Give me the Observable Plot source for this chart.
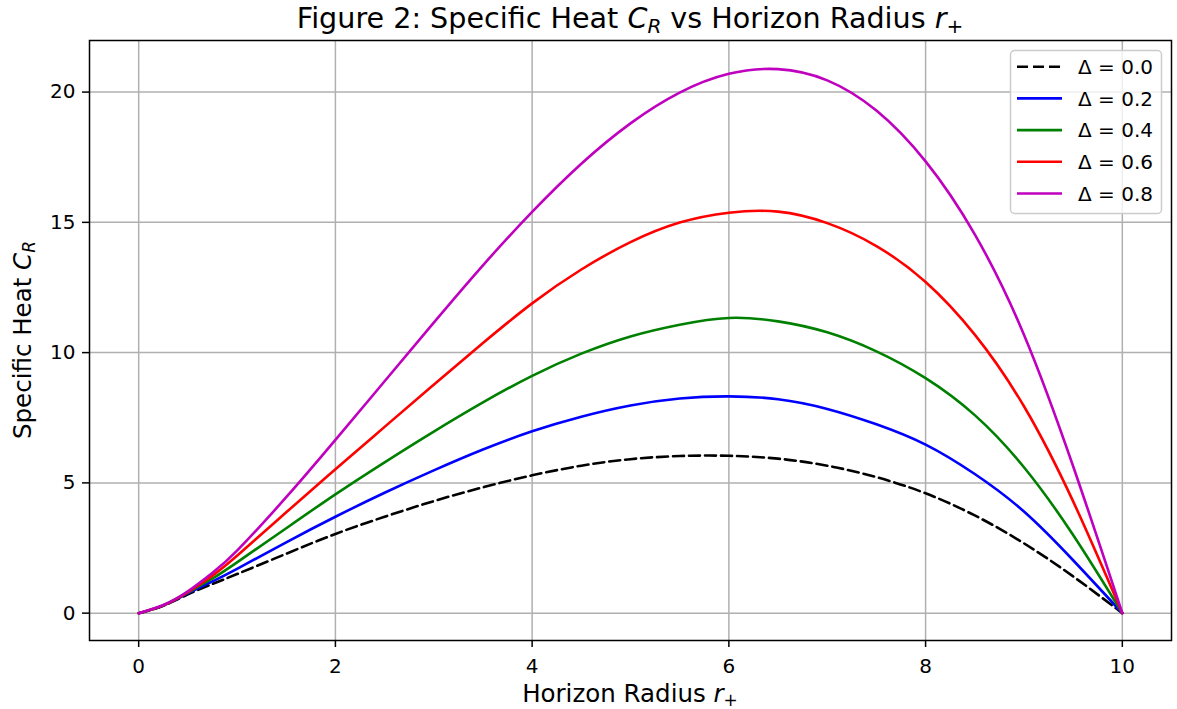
<!DOCTYPE html>
<html>
<head>
<meta charset="utf-8">
<script src="https://cdn.jsdelivr.net/npm/d3@7"></script>
<script src="https://cdn.jsdelivr.net/npm/@observablehq/plot@0.6"></script>
<style>
  body { margin: 0; background: #fff; }
  #chart { width: 1177px; height: 709px; font-family: "DejaVu Sans", sans-serif; }
</style>
</head>
<body>
<div id="chart"></div>
<script>
// Horizon radius samples
const rPlus = [0, 0.25, 0.5, 0.75, 1, 1.5, 2, 2.5, 3, 3.5, 4, 4.5, 5, 5.5, 6, 6.5, 7, 7.5, 8, 8.5, 9, 9.5, 10];
// Specific heat C_R for each Δ
const cR_d00 = [0, 0.28, 0.72, 1.12, 1.50, 2.28, 3.04, 3.70, 4.30, 4.83, 5.29, 5.66, 5.91, 6.03, 6.04, 5.93, 5.66, 5.22, 4.60, 3.75, 2.68, 1.41, 0];
const cR_d02 = [0, 0.29, 0.76, 1.22, 1.70, 2.72, 3.70, 4.62, 5.48, 6.28, 6.98, 7.54, 7.97, 8.24, 8.32, 8.21, 7.84, 7.25, 6.47, 5.34, 3.90, 2.03, 0];
const cR_d04 = [0, 0.30, 0.79, 1.33, 1.95, 3.26, 4.56, 5.79, 6.97, 8.09, 9.11, 9.96, 10.62, 11.07, 11.33, 11.20, 10.78, 10.05, 9.02, 7.60, 5.60, 3.00, 0];
const cR_d06 = [0, 0.30, 0.81, 1.44, 2.20, 3.87, 5.52, 7.15, 8.77, 10.37, 11.89, 13.19, 14.24, 14.99, 15.37, 15.41, 14.97, 14.09, 12.71, 10.69, 7.94, 4.29, 0];
const cR_d08 = [0, 0.31, 0.84, 1.55, 2.40, 4.45, 6.65, 8.90, 11.15, 13.35, 15.40, 17.25, 18.80, 19.98, 20.70, 20.88, 20.45, 19.29, 17.34, 14.54, 10.69, 5.64, 0];

const deltaLabels = ["0.0", "0.2", "0.4", "0.6", "0.8"];
const seriesColors = ["#000000", "#0000ff", "#008000", "#ff0000", "#bf00bf"];
const seriesDashes = ["11,5", null, null, null, null];
const xTicks = [0, 2, 4, 6, 8, 10];
const yTicks = [0, 5, 10, 15, 20];

const seriesValues = [cR_d00, cR_d02, cR_d04, cR_d06, cR_d08];
const rows = [];
seriesValues.forEach((vals, k) => vals.forEach((v, i) => rows.push({ r: rPlus[i], c: v, delta: deltaLabels[k] })));

const W = 1177, H = 709, mL = 89, mR = 6, mT = 40, mB = 69;

const plot = Plot.plot({
  width: W, height: H,
  marginLeft: mL, marginRight: mR, marginTop: mT, marginBottom: mB,
  style: { fontFamily: "DejaVu Sans", fontSize: "20px", color: "black", background: "white", overflow: "visible" },
  x: { domain: [-0.5, 10.5], label: null },
  y: { domain: [-1.05, 21.98], label: null },
  marks: [
    Plot.gridX(xTicks, { stroke: "#b0b0b0", strokeOpacity: 1, strokeWidth: 1.5 }),
    Plot.gridY(yTicks, { stroke: "#b0b0b0", strokeOpacity: 1, strokeWidth: 1.5 }),
    ...deltaLabels.map((d, k) => Plot.line(rows.filter(row => row.delta === d), {
      x: "r", y: "c", stroke: seriesColors[k], strokeWidth: 2.6,
      strokeDasharray: seriesDashes[k], curve: "natural"
    })),
    Plot.frame({ stroke: "black", strokeWidth: 1.5 }),
    Plot.axisX(xTicks, { tickSize: 7, tickPadding: 11, strokeWidth: 1.5, fontSize: 20, label: null, tickFormat: d => String(d) }),
    Plot.axisY(yTicks, { tickSize: 7, tickPadding: 7, strokeWidth: 1.5, fontSize: 20, label: null, tickFormat: d => String(d) })
  ]
});

document.getElementById("chart").appendChild(plot);
const svg = d3.select(plot);
const cx = (mL + W - mR) / 2;

// Title
const title = svg.append("text").attr("x", cx).attr("y", 28).attr("text-anchor", "middle")
  .attr("font-family", "DejaVu Sans").attr("font-size", 28.6).attr("fill", "black");
title.append("tspan").text("Figure 2: Specific Heat ");
title.append("tspan").attr("font-style", "italic").text("C");
title.append("tspan").attr("font-style", "italic").attr("font-size", 20).attr("dy", 5).text("R");
title.append("tspan").attr("dy", -5).text(" vs Horizon Radius ");
title.append("tspan").attr("font-style", "italic").text("r");
title.append("tspan").attr("font-size", 20).attr("dy", 5).text("+");

// X label
const xl = svg.append("text").attr("x", cx).attr("y", 702).attr("text-anchor", "middle")
  .attr("font-family", "DejaVu Sans").attr("font-size", 24.5).attr("fill", "black");
xl.append("tspan").text("Horizon Radius ");
xl.append("tspan").attr("font-style", "italic").text("r");
xl.append("tspan").attr("font-size", 17).attr("dy", 4).text("+");

// Y label
const yl = svg.append("text").attr("transform", `translate(31,${(mT + H - mB) / 2}) rotate(-90)`)
  .attr("text-anchor", "middle").attr("font-family", "DejaVu Sans").attr("font-size", 24.5).attr("fill", "black");
yl.append("tspan").text("Specific Heat ");
yl.append("tspan").attr("font-style", "italic").text("C");
yl.append("tspan").attr("font-style", "italic").attr("font-size", 17).attr("dy", 4).text("R");

// Legend
const lg = svg.append("g");
const lx = 1010.5, ly = 50.5, lw = 151, lh = 163;
lg.append("rect").attr("x", lx).attr("y", ly).attr("width", lw).attr("height", lh)
  .attr("rx", 4).attr("fill", "white").attr("fill-opacity", 0.8).attr("stroke", "#cccccc").attr("stroke-width", 1.5);
deltaLabels.forEach((d, k) => {
  const yy = 66.7 + k * 31.7;
  lg.append("line").attr("x1", 1017).attr("x2", 1062).attr("y1", yy).attr("y2", yy)
    .attr("stroke", seriesColors[k]).attr("stroke-width", 2.6)
    .attr("stroke-dasharray", seriesDashes[k] || null);
  lg.append("text").attr("x", 1078).attr("y", yy).attr("dy", "0.36em").attr("text-anchor", "start")
    .attr("font-family", "DejaVu Sans").attr("font-size", 20).attr("fill", "black")
    .text("Δ = " + d);
});
</script>
</body>
</html>
